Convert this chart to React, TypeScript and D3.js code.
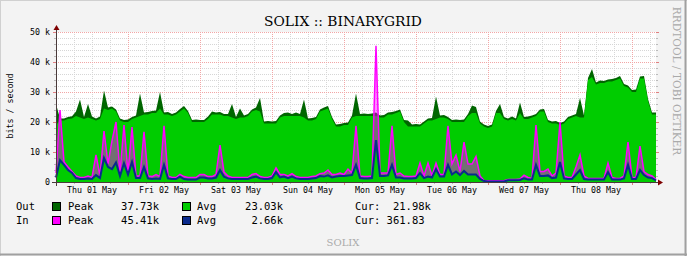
import React from "react";
import * as d3 from "d3";

// values in k bits/second, one sample every 80 minutes from Thu 01 May 00:00
const outAvg = [
  19, 20.5, 20.5, 21, 21.2, 22, 21.5, 21, 21.5, 21,
  20.5, 21, 24.5, 24, 24.5, 23.5, 20.5, 20, 20, 21,
  21.5, 22, 22.5, 22.5, 23, 23, 24.5, 22.5, 22.5, 22,
  22.5, 23.5, 24.5, 23, 20, 20, 20, 20, 21, 22.5,
  22.5, 22.5, 22, 22, 21.5, 21, 21.5, 21.5, 22, 23.5,
  24, 23.5, 19.5, 19.5, 19.5, 19.5, 21.5, 22, 22, 22,
  22, 22, 21.5, 20.5, 20.5, 21, 23.5, 24, 24.5, 21,
  18.5, 18.5, 19, 19, 21.5, 22, 22, 22, 22, 22,
  22, 21.5, 21.5, 22.5, 22.5, 23, 23.5, 20, 18.5, 18.5,
  18.5, 18.5, 19.5, 20.5, 20.5, 21, 21.5, 21.5, 21, 20,
  20, 20, 20, 22, 23, 23, 19.5, 18.5, 18, 18.5,
  23, 23, 21, 20.5, 21, 20.5, 23, 21, 21, 21.5,
  22, 23.5, 23.5, 20, 19.5, 19.5, 19, 19.5, 21, 21.5,
  22, 21.5, 21.5, 34, 35, 32.5, 33, 33, 33.5, 33.5,
  34, 34.5, 32, 31.5, 30, 30, 34.5, 34.5, 27, 22.5,
  22.5,
];
const outPeak = [
  26, 21.2, 21.2, 21.7, 21.9, 23.5, 27.5, 21.7, 26, 21.8,
  21.2, 21.8, 30.5, 24.8, 25.2, 24.2, 21.2, 20.7, 20.8, 21.7,
  22.2, 29.5, 23.2, 23.3, 23.7, 23.8, 30, 23.2, 23.3, 22.7,
  23.2, 24.3, 25.3, 23.7, 20.7, 20.8, 20.7, 20.7, 21.8, 23.5,
  23.2, 23.3, 22.7, 22.7, 26, 21.7, 24.5, 22.2, 22.7, 24.2,
  24.8, 28, 20.2, 20.3, 20.2, 20.3, 22.2, 23, 23.2, 22.7,
  23.2, 22.7, 27.5, 21.2, 21.3, 21.7, 24.2, 24.8, 25.3, 21.7,
  19.2, 19.3, 19.7, 19.8, 22.2, 29.5, 22.7, 22.8, 22.7, 22.8,
  23.2, 22.2, 22.3, 23.2, 23.3, 23.7, 24.2, 20.7, 20.5, 19.2,
  19.3, 19.2, 20.2, 21.2, 21.3, 28.5, 22.2, 22.3, 21.7, 20.7,
  20.8, 20.7, 20.8, 22.7, 25.5, 25, 20.2, 19.2, 18.7, 19.2,
  23.7, 26, 21.7, 21.2, 21.8, 21.2, 26.5, 21.7, 21.8, 22.2,
  22.7, 24.2, 24.3, 20.7, 20.2, 20.3, 19.7, 20.2, 21.7, 22.2,
  22.7, 28, 22.2, 34.7, 37.7, 33.2, 33.8, 33.7, 34.2, 34.3,
  34.7, 35.3, 32.7, 32.2, 30.7, 30.8, 35.2, 35.3, 27.7, 23.2,
  23.2,
];
const inPeak = [
  3, 24, 6.7, 5, 3.5, 2, 1.5, 1.5, 2, 1.5,
  9, 2, 17, 6, 13.7, 20, 3, 19, 3, 18.3,
  2, 2, 16.7, 2, 1.8, 2.5, 1.8, 18.7, 2, 1.5,
  1.5, 2.5, 1.8, 1.5, 1.5, 1.5, 2.5, 2.5, 1.8, 1.8,
  2.5, 12.3, 3.3, 2, 1.5, 1.5, 1.5, 1.5, 1.5, 2.5,
  2.8, 1.8, 1.5, 1.5, 2, 4.7, 2.5, 2.5, 2, 2.8,
  1.8, 1.5, 1.5, 1.5, 1.8, 2, 2.8, 3, 4, 2.5,
  2.5, 3, 2.5, 4.3, 3, 18.7, 2, 1.8, 1.8, 2,
  45.4, 3, 3, 3, 18.7, 2.5, 3, 2, 1.8, 1.8,
  2, 6.3, 2, 6.3, 2, 6.3, 2.5, 2.5, 18.7, 6,
  9, 3.5, 13.3, 6, 6, 8.5, 2, 0.5, 0.4, 0.4,
  0.4, 0.4, 0.4, 0.8, 0.8, 0.8, 1, 2.3, 1.5, 1.2,
  19, 3.5, 3.5, 4.3, 2, 3, 20, 2, 1.5, 1.5,
  5, 9, 2, 1.2, 1.2, 1.2, 1.2, 1.2, 6.3, 1.5,
  1.2, 1.2, 2, 13.3, 1.5, 1.5, 12, 3.5, 2.5, 2,
  0.8,
];
const inAvg = [
  1.5, 7.3, 5.7, 4, 3, 1.3, 1, 1, 1.2, 1,
  2.3, 1.3, 8, 5, 4.3, 6.5, 2, 6.3, 2.5, 6.7,
  1.3, 1.3, 5, 1.2, 1, 1.2, 1, 5.7, 1.2, 1,
  1, 1.8, 1, 0.8, 0.8, 0.8, 1.5, 1.5, 1.2, 1.2,
  1.5, 4, 1.8, 1.2, 1, 1, 1, 1, 1, 1.5,
  1.8, 1.2, 1, 1, 1.3, 3.3, 1.5, 1.8, 1.3, 1.8,
  1.2, 1, 1, 1, 1.2, 1.3, 2, 1.8, 2.2, 1.5,
  1.8, 2, 2, 2.2, 2.3, 5.7, 1.3, 1.2, 1.2, 1.3,
  14, 2, 2, 2.2, 5.7, 1.5, 1.5, 1.2, 1.2, 1.2,
  1.3, 3, 1.3, 1.8, 1.5, 4.3, 1.8, 1.8, 5.7, 2.5,
  3.5, 2.3, 3.7, 2.5, 2.5, 2.5, 1, 0.3, 0.2, 0.2,
  0.2, 0.2, 0.2, 0.6, 0.6, 0.6, 0.7, 1.2, 0.8, 0.8,
  5.7, 2, 2, 2.2, 1.3, 1.5, 6.7, 1.2, 1, 1,
  2.5, 4, 1, 0.8, 0.8, 0.8, 0.8, 0.8, 3.3, 0.8,
  0.8, 0.8, 1.2, 5.7, 1, 1, 4, 2.3, 1.5, 1.3,
  0.5,
];

const yTickValues = [0, 10, 20, 30, 40, 50];
const yTickLabels = ["0", "10 k", "20 k", "30 k", "40 k", "50 k"];
const dayLabels = ["Thu 01 May", "Fri 02 May", "Sat 03 May", "Sun 04 May", "Mon 05 May", "Tue 06 May", "Wed 07 May", "Thu 08 May"];
const legendRows = [
  { name: "Out", peakColor: "#006600", peak: "37.73k", avgColor: "#00CC00", avg: "23.03k", cur: "Cur:  21.98k" },
  { name: "In", peakColor: "#FF00FF", peak: "45.41k", avgColor: "#0A2A8C", avg: "2.66k", cur: "Cur: 361.83" },
];

const START = new Date(2025, 4, 1, 0, 0, 0);
const STEP_MS = 80 * 60 * 1000;
const END = new Date(START.getTime() + 200 * 3600 * 1000);

const L = 56, R = 656, T = 32, B = 182;
const MONO = "'DejaVu Sans Mono', monospace";
const SERIF = "'DejaVu Serif', serif";

export default function App() {
  const x = d3.scaleTime().domain([START, END]).range([L, R]);
  const y = d3.scaleLinear().domain([0, 50]).range([B, T]);
  const t = (i: number) => new Date(START.getTime() + i * STEP_MS);
  const curve = d3.curveLinear;

  const area = (vals: number[]) =>
    d3.area<number>().curve(curve).x((_, i) => x(t(i))).y0(B).y1((v) => y(v))(vals) || "";
  const band = (lo: number[], hi: number[]) =>
    d3.area<number>().curve(curve).x((_, i) => x(t(i))).y0((_, i) => y(lo[i])).y1((v) => y(v))(hi) || "";
  const line = (vals: number[]) =>
    d3.line<number>().curve(curve).x((_, i) => x(t(i))).y((v) => y(v))(vals) || "";

  const minorY = d3.range(0, 50.001, 2).filter((v) => v % 10 !== 0);
  const minorX = d3.timeHour.every(6)!.range(START, END).filter((d) => d.getHours() !== 0);
  const majorX = d3.timeDay.range(START, END).slice(1);
  const noons = d3.timeDay.range(START, END).map((d) => d3.timeHour.offset(d, 12));

  const gridMinor = "#d6d6d6";
  const gridMajor = "#f2a6a6";

  return (
    <svg width={687} height={256} style={{ display: "block", position: "absolute", left: 0, top: 0 }}>
      <rect x={0} y={0} width={687} height={256} fill="#F3F3F3" />
      <line x1={0} y1={0.5} x2={687} y2={0.5} stroke="#D0D0D0" />
      <line x1={0.5} y1={0} x2={0.5} y2={256} stroke="#D0D0D0" />
      <line x1={0} y1={254.5} x2={687} y2={254.5} stroke="#A0A0A0" strokeWidth={2} />
      <line x1={685.5} y1={0} x2={685.5} y2={256} stroke="#A0A0A0" strokeWidth={2} />

      <text x={343} y={26} textAnchor="middle" fontFamily={SERIF} fontSize={13.8} fill="#000">SOLIX :: BINARYGRID</text>

      <rect x={L} y={T} width={R - L} height={B - T} fill="#FFFFFF" />

      {/* grid */}
      {minorY.map((v) => (
        <g key={"my" + v}>
          <line x1={L} x2={R} y1={y(v) + 0.5} y2={y(v) + 0.5} stroke={gridMinor} strokeDasharray="1,1" />
          <line x1={L - 2} x2={L} y1={y(v) + 0.5} y2={y(v) + 0.5} stroke="#bbb" />
          <line x1={R} x2={R + 2} y1={y(v) + 0.5} y2={y(v) + 0.5} stroke="#bbb" />
        </g>
      ))}
      {minorX.map((d) => (
        <g key={"mx" + d.getTime()}>
          <line x1={x(d) + 0.5} x2={x(d) + 0.5} y1={T} y2={B} stroke={gridMinor} strokeDasharray="1,1" />
          <line x1={x(d) + 0.5} x2={x(d) + 0.5} y1={B} y2={B + 2} stroke="#bbb" />
        </g>
      ))}
      {yTickValues.filter((v) => v > 0).map((v) => (
        <g key={"My" + v}>
          <line x1={L} x2={R} y1={y(v) + 0.5} y2={y(v) + 0.5} stroke={gridMajor} strokeDasharray="1,1" />
          <line x1={L - 3} x2={L} y1={y(v) + 0.5} y2={y(v) + 0.5} stroke="#e08080" />
          <line x1={R} x2={R + 3} y1={y(v) + 0.5} y2={y(v) + 0.5} stroke="#e08080" />
        </g>
      ))}
      {majorX.map((d) => (
        <g key={"Mx" + d.getTime()}>
          <line x1={x(d) + 0.5} x2={x(d) + 0.5} y1={T} y2={B} stroke={gridMajor} strokeDasharray="1,1" />
          <line x1={x(d) + 0.5} x2={x(d) + 0.5} y1={B} y2={B + 3} stroke="#e08080" />
        </g>
      ))}

      {/* data */}
      <path d={area(outPeak)} fill="#006600" />
      <path d={area(outAvg)} fill="#00CC00" />
      <path d={band(inAvg, inPeak)} fill="#FF00FF" fillOpacity={0.45} />
      <path d={line(inPeak)} fill="none" stroke="#FF00FF" strokeWidth={1.5} />
      <path d={line(inAvg)} fill="none" stroke="#0A2A8C" strokeWidth={2} />

      {/* axes */}
      <line x1={L - 4} x2={R + 4} y1={B + 0.5} y2={B + 0.5} stroke="#4a3a3a" />
      <line x1={L + 0.5} x2={L + 0.5} y1={B + 4} y2={T - 3} stroke="#4a3a3a" />
      <path d={`M${R + 2},${B - 2.5} L${R + 7},${B + 0.5} L${R + 2},${B + 3.5} Z`} fill="#7F0000" />
      <path d={`M${L - 2.5},${T - 2} L${L + 0.5},${T - 7} L${L + 3.5},${T - 2} Z`} fill="#7F0000" />

      {/* y labels */}
      {yTickValues.map((v, i) => (
        <text key={"yl" + v} x={50} y={y(v) + 3} textAnchor="end" fontFamily={MONO} fontSize={8.3} fill="#000">{yTickLabels[i]}</text>
      ))}
      <text transform="translate(13,106) rotate(-90)" textAnchor="middle" fontFamily={MONO} fontSize={8.3} fill="#000">bits / second</text>

      {/* x labels */}
      {noons.map((d, i) => (
        <text key={"xl" + i} x={x(d)} y={193} textAnchor="middle" fontFamily={MONO} fontSize={8.3} fill="#000">{dayLabels[i]}</text>
      ))}

      {/* legend */}
      {legendRows.map((r, k) => {
        const by = 210 + k * 14;
        return (
          <g key={r.name} fontFamily={MONO} fontSize={10.5} fill="#000">
            <text x={16} y={by}>{r.name}</text>
            <rect x={52.5} y={by - 7.5} width={8} height={8} fill={r.peakColor} stroke="#000" />
            <text x={68} y={by}>Peak</text>
            <text x={159} y={by} textAnchor="end">{r.peak}</text>
            <rect x={182.5} y={by - 7.5} width={8} height={8} fill={r.avgColor} stroke="#000" />
            <text x={197} y={by}>Avg</text>
            <text x={283} y={by} textAnchor="end">{r.avg}</text>
            <text x={355} y={by} style={{ whiteSpace: "pre" }}>{r.cur}</text>
          </g>
        );
      })}

      <text x={343} y={246} textAnchor="middle" fontFamily={SERIF} fontSize={10} fill="#AAAAAA">SOLIX</text>
      <text transform="translate(673,81) rotate(90)" textAnchor="middle" fontFamily={SERIF} fontSize={10.6} fill="#AAAAAA">RRDTOOL / TOBI OETIKER</text>
    </svg>
  );
}
